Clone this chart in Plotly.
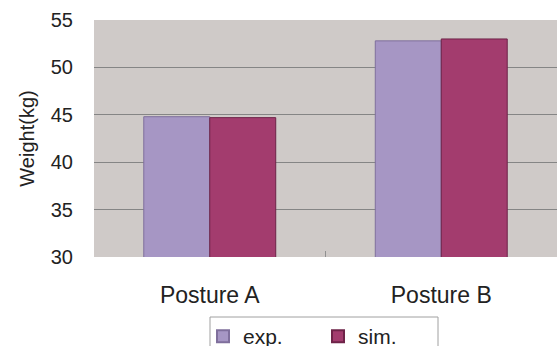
import plotly.graph_objects as go

# Measured vs simulated weight for two postures
categories = ["Posture A", "Posture B"]
exp_values = [44.8, 52.8]
sim_values = [44.7, 53.0]
y_ticks = [30, 35, 40, 45, 50, 55]

FONT = "Liberation Sans, Arial, sans-serif"
W, H = 557, 346
L, R, T, B = 94, 0, 20, 89
plot_w = W - L - R
plot_h = H - T - B


def px_x(px):
    return (px - L) / plot_w


def px_y(py):
    return (H - B - py) / plot_h


fig = go.Figure()
fig.add_trace(go.Bar(
    name="exp.", x=categories, y=exp_values,
    marker=dict(color="#A696C4", line=dict(color="#7F6F9C", width=1)),
))
fig.add_trace(go.Bar(
    name="sim.", x=categories, y=sim_values,
    marker=dict(color="#A33C6E", line=dict(color="#6E2348", width=1)),
))

# legend frame
fig.add_shape(
    type="rect", xref="paper", yref="paper",
    x0=px_x(210), x1=px_x(438), y0=px_y(360), y1=px_y(317),
    line=dict(color="#A0A0A0", width=1), fillcolor="rgba(0,0,0,0)",
)

fig.update_layout(
    width=W, height=H,
    margin=dict(l=L, r=R, t=T, b=B, pad=0, autoexpand=False),
    paper_bgcolor="white",
    plot_bgcolor="#CFCAC8",
    barmode="group",
    bargap=0.43,
    bargroupgap=0,
    font=dict(family=FONT, size=19, color="#222222"),
    showlegend=True,
    legend=dict(
        orientation="h",
        x=px_x(203), xanchor="left",
        y=px_y(316), yanchor="top",
        font=dict(family=FONT, size=21, color="#222222"),
        bgcolor="rgba(0,0,0,0)",
        borderwidth=0,
        entrywidthmode="pixels",
        entrywidth=70,
        itemsizing="constant",
        traceorder="normal",
    ),
    xaxis=dict(
        type="category",
        tickfont=dict(family=FONT, size=23, color="#222222"),
        ticks="inside", tickson="boundaries", ticklen=6,
        tickcolor="#909090", tickwidth=1,
        ticklabelstandoff=22,
        showgrid=False, showline=False, zeroline=False,
    ),
    yaxis=dict(
        range=[30, 55],
        tickvals=y_ticks,
        tickfont=dict(family=FONT, size=20, color="#222222"),
        ticks="", ticklabelstandoff=20,
        showgrid=True, gridcolor="#858585", gridwidth=1.3,
        zeroline=False, showline=False,
        title=dict(text="Weight(kg)", standoff=10,
                   font=dict(family=FONT, size=20, color="#222222")),
    ),
)

fig.write_html("out.html")
